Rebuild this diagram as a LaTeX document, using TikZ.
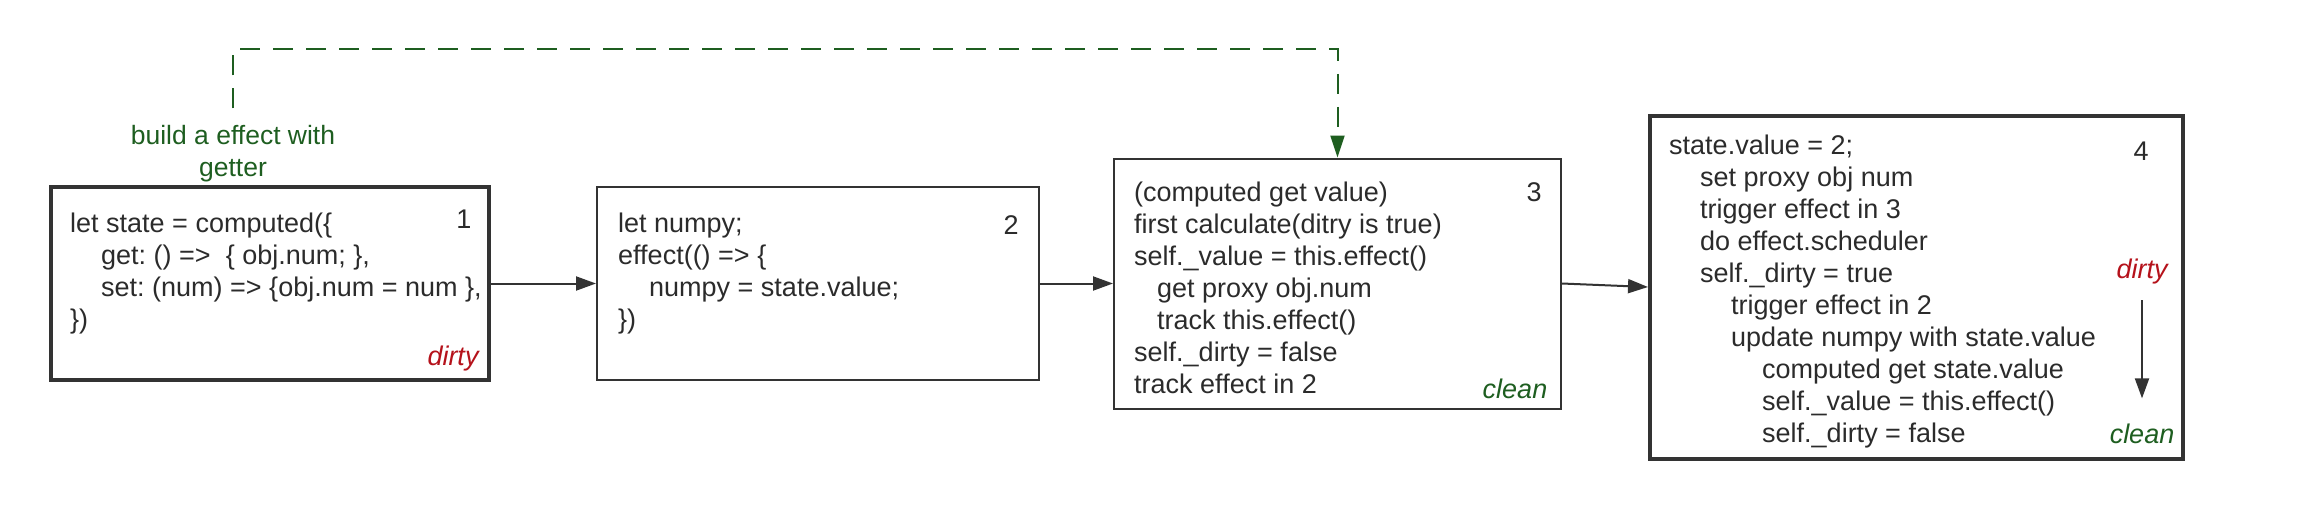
\documentclass[tikz,border=0pt]{standalone}
\usepackage{fontspec}
\setmainfont{Liberation Sans}
\usetikzlibrary{positioning,arrows.meta}
\frenchspacing

\definecolor{inkgray}{HTML}{2B2B2B}
\definecolor{linegray}{HTML}{333333}
\definecolor{getgreen}{HTML}{1E5E20}
\definecolor{dirtyred}{HTML}{B5121B}

\newcommand{\codeind}{\hspace*{31pt}}

\begin{document}
\begin{tikzpicture}[
      x=1pt, y=-1pt,
      every node/.style={
        text=inkgray,
        font=\fontsize{27}{32}\selectfont
      },
      box/.style={
        draw=linegray,
        rectangle,
        line width=2pt,
        minimum height=193pt,
        inner sep=0pt
      },
      boldbox/.style={box, line width=4pt},
      code/.style={align=left, inner sep=0pt, anchor=north west},
      tag/.style={inner sep=0pt},
      dirtytag/.style={tag, text=dirtyred, font=\fontsize{27}{32}\selectfont\itshape},
      cleantag/.style={tag, text=getgreen, font=\fontsize{27}{32}\selectfont\itshape},
      flow/.style={draw=linegray, line width=2pt, -{Triangle[length=20pt,width=14pt]}},
      getter/.style={draw=getgreen, line width=2pt, dash pattern=on 20pt off 13pt,
        -{Triangle[length=22pt,width=14pt]}}
    ]
    \useasboundingbox (0,0) rectangle (2311,507);

    % Boxes
    \node[boldbox, minimum width=438pt] (b1) at (270,283.5) {};
    \node[box, minimum width=442pt] (b2) [right=105pt of b1] {};
    \node[box, minimum width=447pt, minimum height=250pt] (b3) [right=73pt of b2] {};
    \node[boldbox, minimum width=533pt, minimum height=343pt, yshift=-3.5pt] (b4) [right=86pt of b3] {};

    % Box contents
    \node[code] (t1) at ([shift={(21,25)}]b1.north west) {\strut let state = computed(\{\\
      \codeind get: () =>\ \ \{ obj.num; \},\\
      \codeind set: (num) => \{obj.num = num \},\\
      \})};
    \node[code] (t2) at ([shift={(22,24)}]b2.north west) {\strut let numpy;\\
      effect(() => \{\\
      \codeind numpy = state.value;\\
      \})};
    \node[code] (t3) at ([shift={(21,21.6)}]b3.north west) {\strut (computed get value)\\
      first calculate(ditry is true)\\
      self.\_value = this.effect()\\
      \hspace*{23pt}get proxy obj.num\\
      \hspace*{23pt}track this.effect()\\
      self.\_dirty = false\\
      track effect in 2};
    \node[code] (t4) at ([shift={(21,18.6)}]b4.north west) {\strut state.value = 2;\\
      \codeind set proxy obj num\\
      \codeind trigger effect in 3\\
      \codeind do effect.scheduler\\
      \codeind self.\_dirty = true\\
      \codeind\codeind trigger effect in 2\\
      \codeind\codeind update numpy with state.value\\
      \codeind\codeind\codeind computed get state.value\\
      \codeind\codeind\codeind self.\_value = this.effect()\\
      \codeind\codeind\codeind self.\_dirty = false};

    % Step numbers
    \node[tag] (n1) at ([shift={(-27,34)}]b1.north east) {1};
    \node[tag] (n2) at ([shift={(-29,39)}]b2.north east) {2};
    \node[tag] (n3) at ([shift={(-28,35)}]b3.north east) {3};
    \node[tag] (n4) at ([shift={(-44,38)}]b4.north east) {4};

    % State tags
    \node[dirtytag] (d1) at ([shift={(-38,-23)}]b1.south east) {dirty};
    \node[cleantag] (c3) at ([shift={(-47,-21)}]b3.south east) {clean};
    \node[dirtytag] (d4) at ([shift={(-43,-15.5)}]b4.east) {dirty};
    \node[cleantag] (c4) at ([shift={(-43,-27)}]b4.south east) {clean};

    % Getter label
    \node[tag, text=getgreen, align=center, font=\fontsize{26.5}{32}\selectfont] (lbl) at (233,154)
      {build a effect with\\getter};

    % Arrows
    \draw[flow] (b1) -- (b2);
    \draw[flow] (b2) -- (b3);
    \draw[flow] (b3.east) -- (b4.west);
    \draw[flow, shorten <=16pt, shorten >=25pt] (d4) -- (c4);
    \draw[getter, shorten <=17pt] (lbl.north) -- ++(0,-76) -| (b3.north);
  \end{tikzpicture}
\end{document}
